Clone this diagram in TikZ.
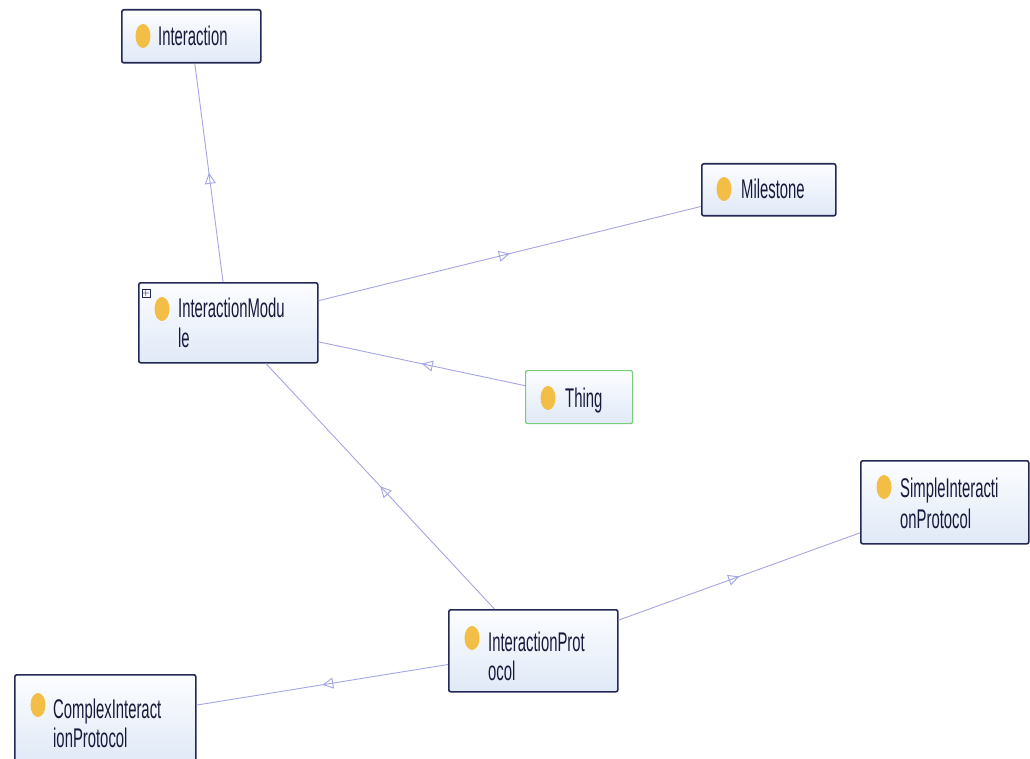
\documentclass[tikz,border=0pt]{standalone}
\usepackage{fontspec}
\newfontfamily\nodefont[FakeStretch=0.55]{Liberation Sans}
\usetikzlibrary{arrows.meta,decorations.markings,shapes.geometric}
\definecolor{edgec}{RGB}{165,165,228}
\definecolor{boxborder}{RGB}{35,40,85}
\definecolor{boxtop}{RGB}{252,253,255}
\definecolor{boxbot}{RGB}{224,233,247}
\definecolor{dotc}{RGB}{242,190,70}
\definecolor{txtc}{RGB}{25,25,60}
\definecolor{thingc}{RGB}{120,205,120}
\begin{document}
\begin{tikzpicture}[x=1pt,y=-1pt,
  cls/.style={draw=boxborder, line width=1.6pt, rounded corners=2pt,
    top color=boxtop, bottom color=boxbot, inner sep=0pt, anchor=north west},
  dot/.style={ellipse, fill=dotc, minimum width=15pt, minimum height=24pt, inner sep=0pt},
  lbl/.style={font=\nodefont\fontsize{27}{27}\selectfont, text=txtc, inner sep=0pt, anchor=base west},
  edge/.style={draw=edgec, line width=0.9pt, postaction={decorate},
    decoration={markings, mark=at position 0.5 with {\arrow{Triangle[open,length=11pt,width=11pt]}}}}]
\fill[white] (0,0) rectangle (1030,759);
\useasboundingbox (0,0) rectangle (1030,759);

% boxes
\node[cls, minimum width=139pt, minimum height=53pt] (inter) at (121,9) {};
\node[cls, minimum width=134pt, minimum height=52pt] (mile) at (701,163) {};
\node[cls, minimum width=179pt, minimum height=80pt] (im) at (138,282) {};
\node[cls, draw=thingc, line width=1.2pt, minimum width=107pt, minimum height=53pt] (thing) at (525,370) {};
\node[cls, minimum width=168pt, minimum height=83pt] (simple) at (860,460) {};
\node[cls, minimum width=169pt, minimum height=82pt] (ip) at (448,609) {};
\node[cls, minimum width=181pt, minimum height=90pt] (complex) at (14,674) {};

% edges
\draw[edge] (im) -- (inter);
\draw[edge] (im) -- (mile);
\draw[edge] (thing) -- (im);
\draw[edge] (ip) -- (im);
\draw[edge] (ip) -- (simple);
\draw[edge] (ip) -- (complex);

% dots
\node[dot] (d-inter) at (143,36) {};
\node[dot] (d-mile) at (724,189) {};
\node[dot] (d-im) at (162,309) {};
\node[dot] (d-thing) at (548,398) {};
\node[dot] (d-simple) at (884,487) {};
\node[dot] (d-ip) at (472,638) {};
\node[dot] (d-complex) at (38,705) {};

% plus marker
\node[draw=boxborder, line width=0.6pt, fill=white, minimum size=8pt, inner sep=0pt,
  font=\bfseries\fontsize{8}{8}\selectfont, text=boxborder] (plus) at (146,293) {+};

% labels
\node[lbl] (t-inter) at (158,46) {Interaction};
\node[lbl] (t-mile) at (741,199) {Milestone};
\node[lbl] (t-im1) at (178,317) {InteractionModu};
\node[lbl] (t-im2) at (178,347) {le};
\node[lbl] (t-thing) at (565,407) {Thing};
\node[lbl] (t-simple1) at (900,497) {SimpleInteracti};
\node[lbl] (t-simple2) at (900,528) {onProtocol};
\node[lbl] (t-ip1) at (488,651) {InteractionProt};
\node[lbl] (t-ip2) at (488,680) {ocol};
\node[lbl] (t-complex1) at (53,718) {ComplexInteract};
\node[lbl] (t-complex2) at (53,747) {ionProtocol};
\end{tikzpicture}
\end{document}
